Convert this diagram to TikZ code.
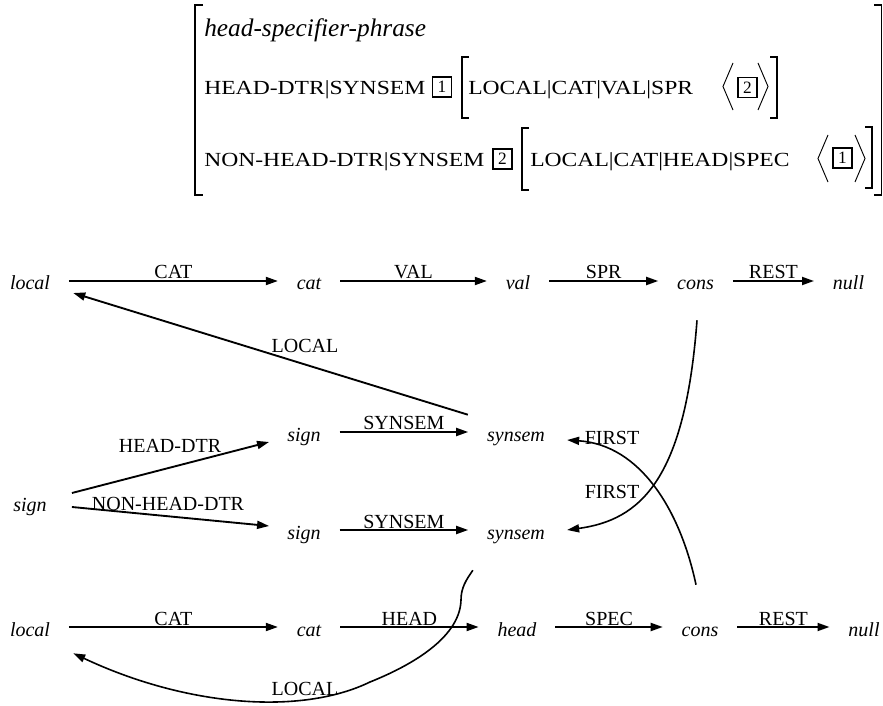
\documentclass[tikz,border=0pt]{standalone}
\usepackage{fontspec}
\setmainfont{Liberation Serif}
\usepackage{graphicx}
\usetikzlibrary{arrows.meta,calc}

% feature paths of the attribute-value matrix, set in wide capitals
\newcommand\featfont{\fontsize{15}{18}\selectfont}
\newcommand\feat[1]{\scalebox{1.18}[1]{\featfont #1}}

\begin{document}
\begin{tikzpicture}[x=0.75pt,y=-0.75pt,
  gnode/.style={font=\fontsize{15}{18}\selectfont\itshape, inner sep=0pt,
                text height=14.5pt, text depth=1pt},
  glabel/.style={font=\fontsize{15}{18}\selectfont, inner sep=0pt, anchor=base},
  arrowhd/.style={-{Triangle[length=9pt,width=6pt]}},
  arr/.style={line width=1.4pt, arrowhd},
  harr/.style={arr, shorten <=14pt, shorten >=14pt},
  curveline/.style={line width=1.2pt, arrowhd},
  brk/.style={line width=1.1pt},
  ang/.style={line width=0.7pt},
  tagbox/.style={draw, line width=1.2pt, inner sep=0pt, minimum width=14.25pt,
                 minimum height=15pt, font=\fontsize{13}{13}\selectfont},
  avm/.style={inner sep=0pt, anchor=base west}
]
\useasboundingbox (0,0) rectangle (883,706);

% ---------- attribute-value matrix ----------
\node[avm, font=\fontsize{19}{22}\selectfont\itshape] (typ) at (204,37) {head-specifier-phrase};
\node[avm] (hd)   at (204,95)  {\feat{HEAD-DTR|SYNSEM}};
\node[tagbox] (t1a) at (442,87) {1};
\node[avm] (hdp)  at (468,95)  {\feat{LOCAL|CAT|VAL|SPR}};
\node[tagbox] (t2a) at (747.5,87.5) {2};
\node[avm] (nhd)  at (204,167) {\feat{NON-HEAD-DTR|SYNSEM}};
\node[tagbox] (t2b) at (502.5,159) {2};
\node[avm] (nhdp) at (530,167) {\feat{LOCAL|CAT|HEAD|SPEC}};
\node[tagbox] (t1b) at (842.5,158) {1};

% outer brackets
\draw[brk] (203,5) -- (195,5) -- (195,195) -- (203,195);
\draw[brk] (874,5) -- (881.5,5) -- (881.5,195) -- (874,195);
% inner brackets
\draw[brk] (469,57) -- (462,57) -- (462,118) -- (469,118);
\draw[brk] (770,57) -- (777,57) -- (777,118) -- (770,118);
\draw[brk] (529,128) -- (522,128) -- (522,190) -- (529,190);
\draw[brk] (865,127) -- (872,127) -- (872,188) -- (865,188);
% list brackets
\draw[ang] (733,63) -- (723,86.5) -- (733,110);
\draw[ang] (758,63) -- (768,86.5) -- (758,110);
\draw[ang] (828,135) -- (818,158.5) -- (828,182);
\draw[ang] (855,135) -- (865,158.5) -- (855,182);

% ---------- feature graph ----------
\node[gnode] (L1) at (30,281)    {local};
\node[gnode] (C1) at (309,281)   {cat};
\node[gnode] (V1) at (518,281)   {val};
\node[gnode] (K1) at (695.5,281) {cons};
\node[gnode] (N1) at (848.5,281) {null};

\node[gnode] (S0) at (30,502)  {sign};
\node[gnode] (SA) at (304,432) {sign};
\node[gnode] (YA) at (516,432) {synsem};
\node[gnode] (SB) at (304,530) {sign};
\node[gnode] (YB) at (516,530) {synsem};

\node[gnode] (L2) at (30,627)  {local};
\node[gnode] (C2) at (309,627) {cat};
\node[gnode] (H2) at (517,627) {head};
\node[gnode] (K2) at (700,627) {cons};
\node[gnode] (N2) at (864,627) {null};

% top path
\draw[harr] (L1.east) -- node[glabel, yshift=1.5pt] {CAT}  (C1.west);
\draw[harr] (C1.east) -- node[glabel, yshift=1.5pt] {VAL}  (V1.west);
\draw[harr] (V1.east) -- node[glabel, yshift=1.5pt] {SPR}  (K1.west);
\draw[harr] (K1.east) -- node[glabel, yshift=1.5pt] {REST} (N1.west);

% bottom path
\draw[harr] (L2.east) -- node[glabel, yshift=1.5pt] {CAT}  (C2.west);
\draw[harr] (C2.east) -- node[glabel, yshift=1.5pt] {HEAD} (H2.west);
\draw[harr] (H2.east) -- node[glabel, yshift=1.5pt] {SPEC} (K2.west);
\draw[harr] (K2.east) -- node[glabel, yshift=1.5pt] {REST} (N2.west);

% daughters
\draw[arr] ($(S0.east)+(25,-9)$) -- ($(SA.west)+(-18,10)$);
\draw[arr] ($(S0.east)+(25,5)$)  -- ($(SB.west)+(-18,-4)$);
\node[glabel] (lbHD)  at (170,452) {HEAD-DTR};
\node[glabel] (lbNHD) at (168,510) {NON-HEAD-DTR};

\draw[harr] (SA.east) -- node[glabel, yshift=1.5pt] {SYNSEM} (YA.west);
\draw[harr] (SB.east) -- node[glabel, yshift=1.5pt] {SYNSEM} (YB.west);

% LOCAL from the head daughter's synsem
\draw[arr] ($(YA.north west)+(-19,-6.7)$) -- ($(L1.east)+(23,12)$);
\node[glabel] (lbLocA) at (305,353) {LOCAL};

% LOCAL from the non-head daughter's synsem
\draw[curveline] ($(YB.south west)+(-14,29.7)$)
   .. controls (466,580) and (461,588) .. (461,600)
   .. controls (460,640) and (405,668) .. (370,682)
   .. controls (300,716) and (185,706) .. ($(L2.south east)+(23,15.7)$);
\node[glabel] (lbLocB) at (305,695) {LOCAL};

% FIRST links between the lists and the synsems
\draw[curveline] ($(K1.south)+(1.5,28.7)$) .. controls +(-12,160) and +(73,-10) .. ($(YB.east)+(22,0)$);
\draw[curveline] ($(K2.north)+(-4,-31.7)$) .. controls +(-16,-75) and +(73,5) .. ($(YA.east)+(22,8)$);
\node[glabel] (lbFA) at (612,445) {FIRST};
\node[glabel] (lbFB) at (612,498) {FIRST};
\end{tikzpicture}
\end{document}
